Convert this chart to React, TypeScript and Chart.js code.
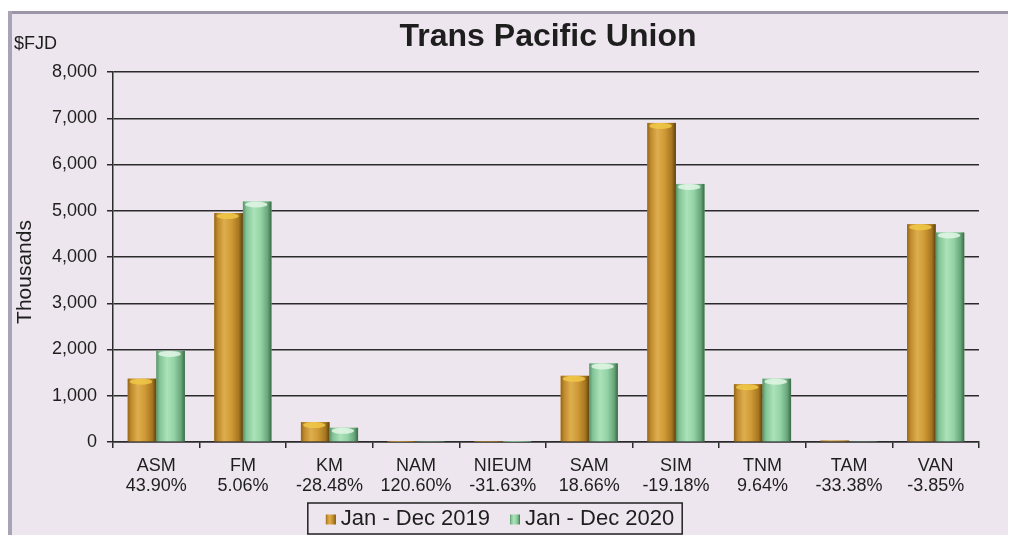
import React, { useEffect, useRef } from "react";
import { Chart, registerables } from "chart.js";

Chart.register(...registerables);

const categories = ["ASM", "FM", "KM", "NAM", "NIEUM", "SAM", "SIM", "TNM", "TAM", "VAN"];
const changeLabels = ["43.90%", "5.06%", "-28.48%", "120.60%", "-31.63%", "18.66%", "-19.18%", "9.64%", "-33.38%", "-3.85%"];
const values2019 = [1370, 4950, 430, 5, 8, 1430, 6900, 1250, 30, 4710];
const values2020 = [1970, 5200, 308, 11, 5, 1700, 5580, 1370, 20, 4530];
const seriesLabels = ["Jan - Dec 2019", "Jan - Dec 2020"];
const yMin = 0;
const yMax = 8000;
const yStep = 1000;

const FONT = "'Liberation Sans', Arial, sans-serif";
const BG = "#eee6ee";
const INK = "#1e1e1e";
const GRID = "#2b2b2b";

const goldStops: [number, string][] = [
  [0, "#94661a"], [0.12, "#c08a2c"], [0.35, "#deae4e"], [0.6, "#cf9a36"], [0.86, "#a57520"], [1, "#5a420f"],
];
const greenStops: [number, string][] = [
  [0, "#5a9069"], [0.12, "#82c496"], [0.38, "#ace2b9"], [0.62, "#94d4a6"], [0.86, "#6aa87c"], [1, "#3b6947"],
];
const capColors = ["#f0c848", "#e2f6e6"];
const solidColors = ["#c8922e", "#8fd3a3"];

const cylinderPlugin = {
  id: "cylinder",
  afterDatasetsDraw(chart: any) {
    const ctx = chart.ctx as CanvasRenderingContext2D;
    const area = chart.chartArea;
    ctx.save();
    ctx.beginPath();
    ctx.rect(area.left, area.top - 10, area.right - area.left, area.bottom - area.top + 10);
    ctx.clip();
    chart.data.datasets.forEach((ds: any, di: number) => {
      const meta = chart.getDatasetMeta(di);
      const stops = di === 0 ? goldStops : greenStops;
      meta.data.forEach((el: any) => {
        const p = el.getProps(["x", "y", "base", "width"], true);
        const left = p.x - p.width / 2;
        const h = p.base - p.y;
        const g = ctx.createLinearGradient(left, 0, left + p.width, 0);
        stops.forEach(([o, c]) => g.addColorStop(o, c));
        ctx.fillStyle = g;
        ctx.fillRect(left, p.y, p.width, h);
        if (h > 8) {
          ctx.beginPath();
          ctx.ellipse(p.x - 1, p.y + 3, p.width / 2 - 3, 3, 0, 0, Math.PI * 2);
          ctx.fillStyle = capColors[di];
          ctx.globalAlpha = 0.85;
          ctx.fill();
          ctx.globalAlpha = 1;
        }
      });
    });
    ctx.restore();
  },
};

const decorPlugin = {
  id: "decor",
  beforeDraw(chart: any) {
    const ctx = chart.ctx as CanvasRenderingContext2D;
    const W = chart.width;
    const H = chart.height;
    ctx.save();
    ctx.fillStyle = "#ffffff";
    ctx.fillRect(0, 0, W, H);
    ctx.fillStyle = BG;
    ctx.fillRect(0, 3, W, H - 3);
    ctx.fillStyle = "#9a96a8";
    ctx.fillRect(0, 3, W, 3);
    ctx.fillStyle = "#a8a4b6";
    ctx.fillRect(0, 3, 4, H - 3);
    ctx.restore();
  },
  afterDraw(chart: any) {
    const ctx = chart.ctx as CanvasRenderingContext2D;
    const area = chart.chartArea;
    ctx.save();
    // Title
    ctx.fillStyle = INK;
    ctx.font = `bold 32px ${FONT}`;
    ctx.textAlign = "center";
    ctx.textBaseline = "alphabetic";
    ctx.fillText("Trans Pacific Union", (area.left + area.right) / 2 + 2, 38);
    // Unit
    ctx.font = `18px ${FONT}`;
    ctx.textAlign = "left";
    ctx.textBaseline = "middle";
    ctx.fillText("$FJD", 6, 36);
    // Y title
    ctx.save();
    ctx.translate(17, (area.top + area.bottom) / 2 + 15);
    ctx.rotate(-Math.PI / 2);
    ctx.font = `21px ${FONT}`;
    ctx.textAlign = "center";
    ctx.textBaseline = "middle";
    ctx.fillText("Thousands", 0, 0);
    ctx.restore();
    // Legend
    ctx.font = `22px ${FONT}`;
    const marker = 10;
    const gapM = 5;
    const gapItem = 20;
    const padL = 18;
    const padR = 8;
    const widths = seriesLabels.map((l) => ctx.measureText(l).width);
    const total = padL + marker + gapM + widths[0] + gapItem + marker + gapM + widths[1] + padR;
    const cx = 487;
    const bx = cx - total / 2;
    const by = 495;
    const bh = 31;
    ctx.strokeStyle = "#222";
    ctx.lineWidth = 1.5;
    ctx.strokeRect(bx, by, total, bh);
    let x = bx + padL;
    const cy = by + bh / 2 - 1;
    seriesLabels.forEach((l, i) => {
      const stops = i === 0 ? goldStops : greenStops;
      const g = ctx.createLinearGradient(x, 0, x + marker, 0);
      stops.forEach(([o, c]) => g.addColorStop(o, c));
      ctx.fillStyle = g;
      ctx.fillRect(x, cy - marker / 2 + 2, marker, marker);
      x += marker + gapM;
      ctx.fillStyle = INK;
      ctx.textAlign = "left";
      ctx.textBaseline = "middle";
      ctx.fillText(l, x, cy + 1);
      x += widths[i] + gapItem;
    });
    ctx.restore();
  },
};

export default function App() {
  const ref = useRef<HTMLCanvasElement>(null);
  useEffect(() => {
    if (!ref.current) return;
    const chart = new Chart(ref.current, {
      type: "bar",
      data: {
        labels: categories.map((c, i) => [c, changeLabels[i]]),
        datasets: [
          { label: seriesLabels[0], data: values2019, backgroundColor: solidColors[0], borderWidth: 0 },
          { label: seriesLabels[1], data: values2020, backgroundColor: solidColors[1], borderWidth: 0 },
        ],
      },
      options: {
        responsive: false,
        animation: false,
        layout: { padding: { left: 0, right: 37, top: 64, bottom: 23 } },
        plugins: {
          legend: { display: false },
          title: { display: false },
          tooltip: { enabled: false },
        },
        datasets: { bar: { categoryPercentage: 0.66, barPercentage: 1 } },
        scales: {
          x: {
            grid: { drawOnChartArea: false, drawTicks: true, tickLength: 6, color: GRID, lineWidth: 1.5 },
            border: { display: true, color: GRID, width: 1.5 },
            ticks: {
              font: { family: FONT, size: 18, lineHeight: 1.1 },
              color: INK,
              padding: 8,
              maxRotation: 0,
              autoSkip: false,
            },
            afterFit: (s: any) => {
              s.height = 70;
            },
          },
          y: {
            min: yMin,
            max: yMax,
            ticks: {
              stepSize: yStep,
              font: { family: FONT, size: 18 },
              color: INK,
              padding: 10,
              callback: (v: any) => Number(v).toLocaleString("en-US"),
            },
            grid: { color: GRID, lineWidth: 1.5, tickLength: 6 },
            border: { display: true, color: GRID, width: 1.5 },
            afterFit: (s: any) => {
              s.width = 105;
            },
          },
        },
      },
      plugins: [decorPlugin, cylinderPlugin],
    });
    return () => chart.destroy();
  }, []);
  return <canvas ref={ref} width={1008} height={527} style={{ display: "block" }} />;
}
